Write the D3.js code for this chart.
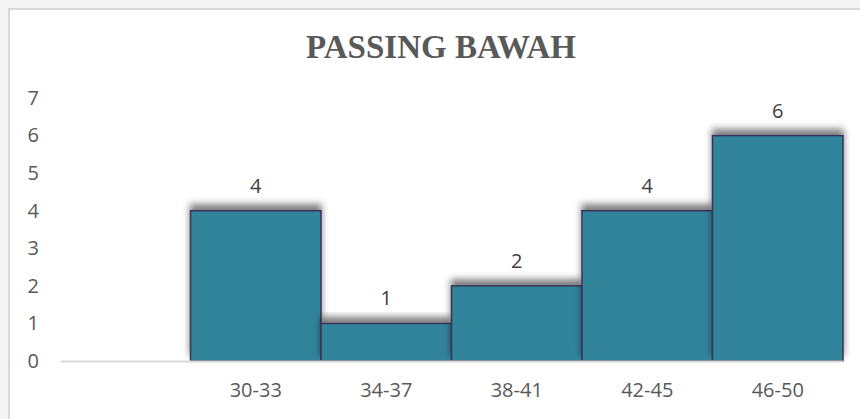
<!DOCTYPE html>
<html>
<head>
<meta charset="utf-8">
<script src="https://cdn.jsdelivr.net/npm/d3@7"></script>
<style>
  body { margin: 0; background: #f4f4f4; }
  #chart { position: absolute; left: 0; top: 0; }
</style>
</head>
<body>
<div id="chart"></div>
<script>
// data
var categories = ["", "30-33", "34-37", "38-41", "42-45", "46-50"];
var counts = [null, 4, 1, 2, 4, 6];
var yTicks = [0, 1, 2, 3, 4, 5, 6, 7];
var title = "PASSING BAWAH";

var W = 860, H = 419;
var margin = {top: 98, right: 17, bottom: 58, left: 60},
    width = W - margin.left - margin.right,
    height = H - margin.top - margin.bottom;

var labelFont = "'Open Sans', 'Liberation Sans', sans-serif";

var svg = d3.select("#chart").append("svg")
    .attr("width", W)
    .attr("height", H);

// shadow filter (shadow cast upward like excel)
var defs = svg.append("defs");
var f = defs.append("filter").attr("id", "shadow")
    .attr("x", "-10%").attr("y", "-30%").attr("width", "120%").attr("height", "160%");
f.append("feDropShadow")
    .attr("dx", 0).attr("dy", -6)
    .attr("stdDeviation", 3.5)
    .attr("flood-color", "#000")
    .attr("flood-opacity", 0.5);

// chart area with border on top/left
svg.append("rect")
    .attr("x", 8).attr("y", 8)
    .attr("width", W).attr("height", H)
    .attr("fill", "#fff");
svg.append("path")
    .attr("d", "M9," + H + "V9H" + W)
    .attr("fill", "none")
    .attr("stroke", "#d9d9d9")
    .attr("stroke-width", 2);

svg.append("text")
    .attr("x", 441)
    .attr("y", 58)
    .attr("text-anchor", "middle")
    .style("font-family", "'Liberation Serif', 'Times New Roman', serif")
    .style("font-weight", "bold")
    .style("font-size", "33px")
    .style("fill", "#595959")
    .text(title);

var g = svg.append("g")
    .attr("transform", "translate(" + margin.left + "," + margin.top + ")");

var x = d3.scaleBand()
    .domain(categories.map(function(d, i) { return i; }))
    .range([0, width])
    .paddingInner(0)
    .paddingOuter(0);

var y = d3.scaleLinear()
    .domain([0, 7])
    .range([height, 0]);

var bars = categories.map(function(c, i) { return {i: i, cat: c, v: counts[i]}; })
    .filter(function(d) { return d.v != null; });

// bars
g.append("g").selectAll("rect")
    .data(bars)
    .enter().append("rect")
    .attr("x", function(d) { return x(d.i); })
    .attr("y", function(d) { return y(d.v); })
    .attr("width", x.bandwidth())
    .attr("height", function(d) { return y(0) - y(d.v); })
    .attr("fill", "#31849b")
    .attr("stroke", "#3a3358")
    .attr("stroke-width", 1.5)
    .attr("filter", "url(#shadow)");

// value labels
g.append("g").selectAll("text")
    .data(bars)
    .enter().append("text")
    .attr("x", function(d) { return x(d.i) + x.bandwidth() / 2; })
    .attr("y", function(d) { return y(d.v) - 18; })
    .attr("text-anchor", "middle")
    .style("font-family", labelFont)
    .style("font-size", "20px")
    .style("fill", "#404040")
    .text(function(d) { return d.v; });

// x axis
var xaxis = g.append("g")
    .attr("transform", "translate(0," + height + ")")
    .call(d3.axisBottom(x).tickSize(0).tickPadding(22)
        .tickFormat(function(i) { return categories[i]; }));
xaxis.select(".domain")
    .attr("stroke", "#d9d9d9")
    .attr("stroke-width", 2);
xaxis.selectAll("text")
    .style("font-family", labelFont)
    .style("font-size", "20px")
    .style("fill", "#595959");

// y axis
var yaxis = g.append("g")
    .call(d3.axisLeft(y).tickValues(yTicks).tickSize(0).tickPadding(21)
        .tickFormat(d3.format("d")));
yaxis.select(".domain").remove();
yaxis.selectAll("text")
    .style("font-family", labelFont)
    .style("font-size", "20px")
    .style("fill", "#595959");
</script>
</body>
</html>
